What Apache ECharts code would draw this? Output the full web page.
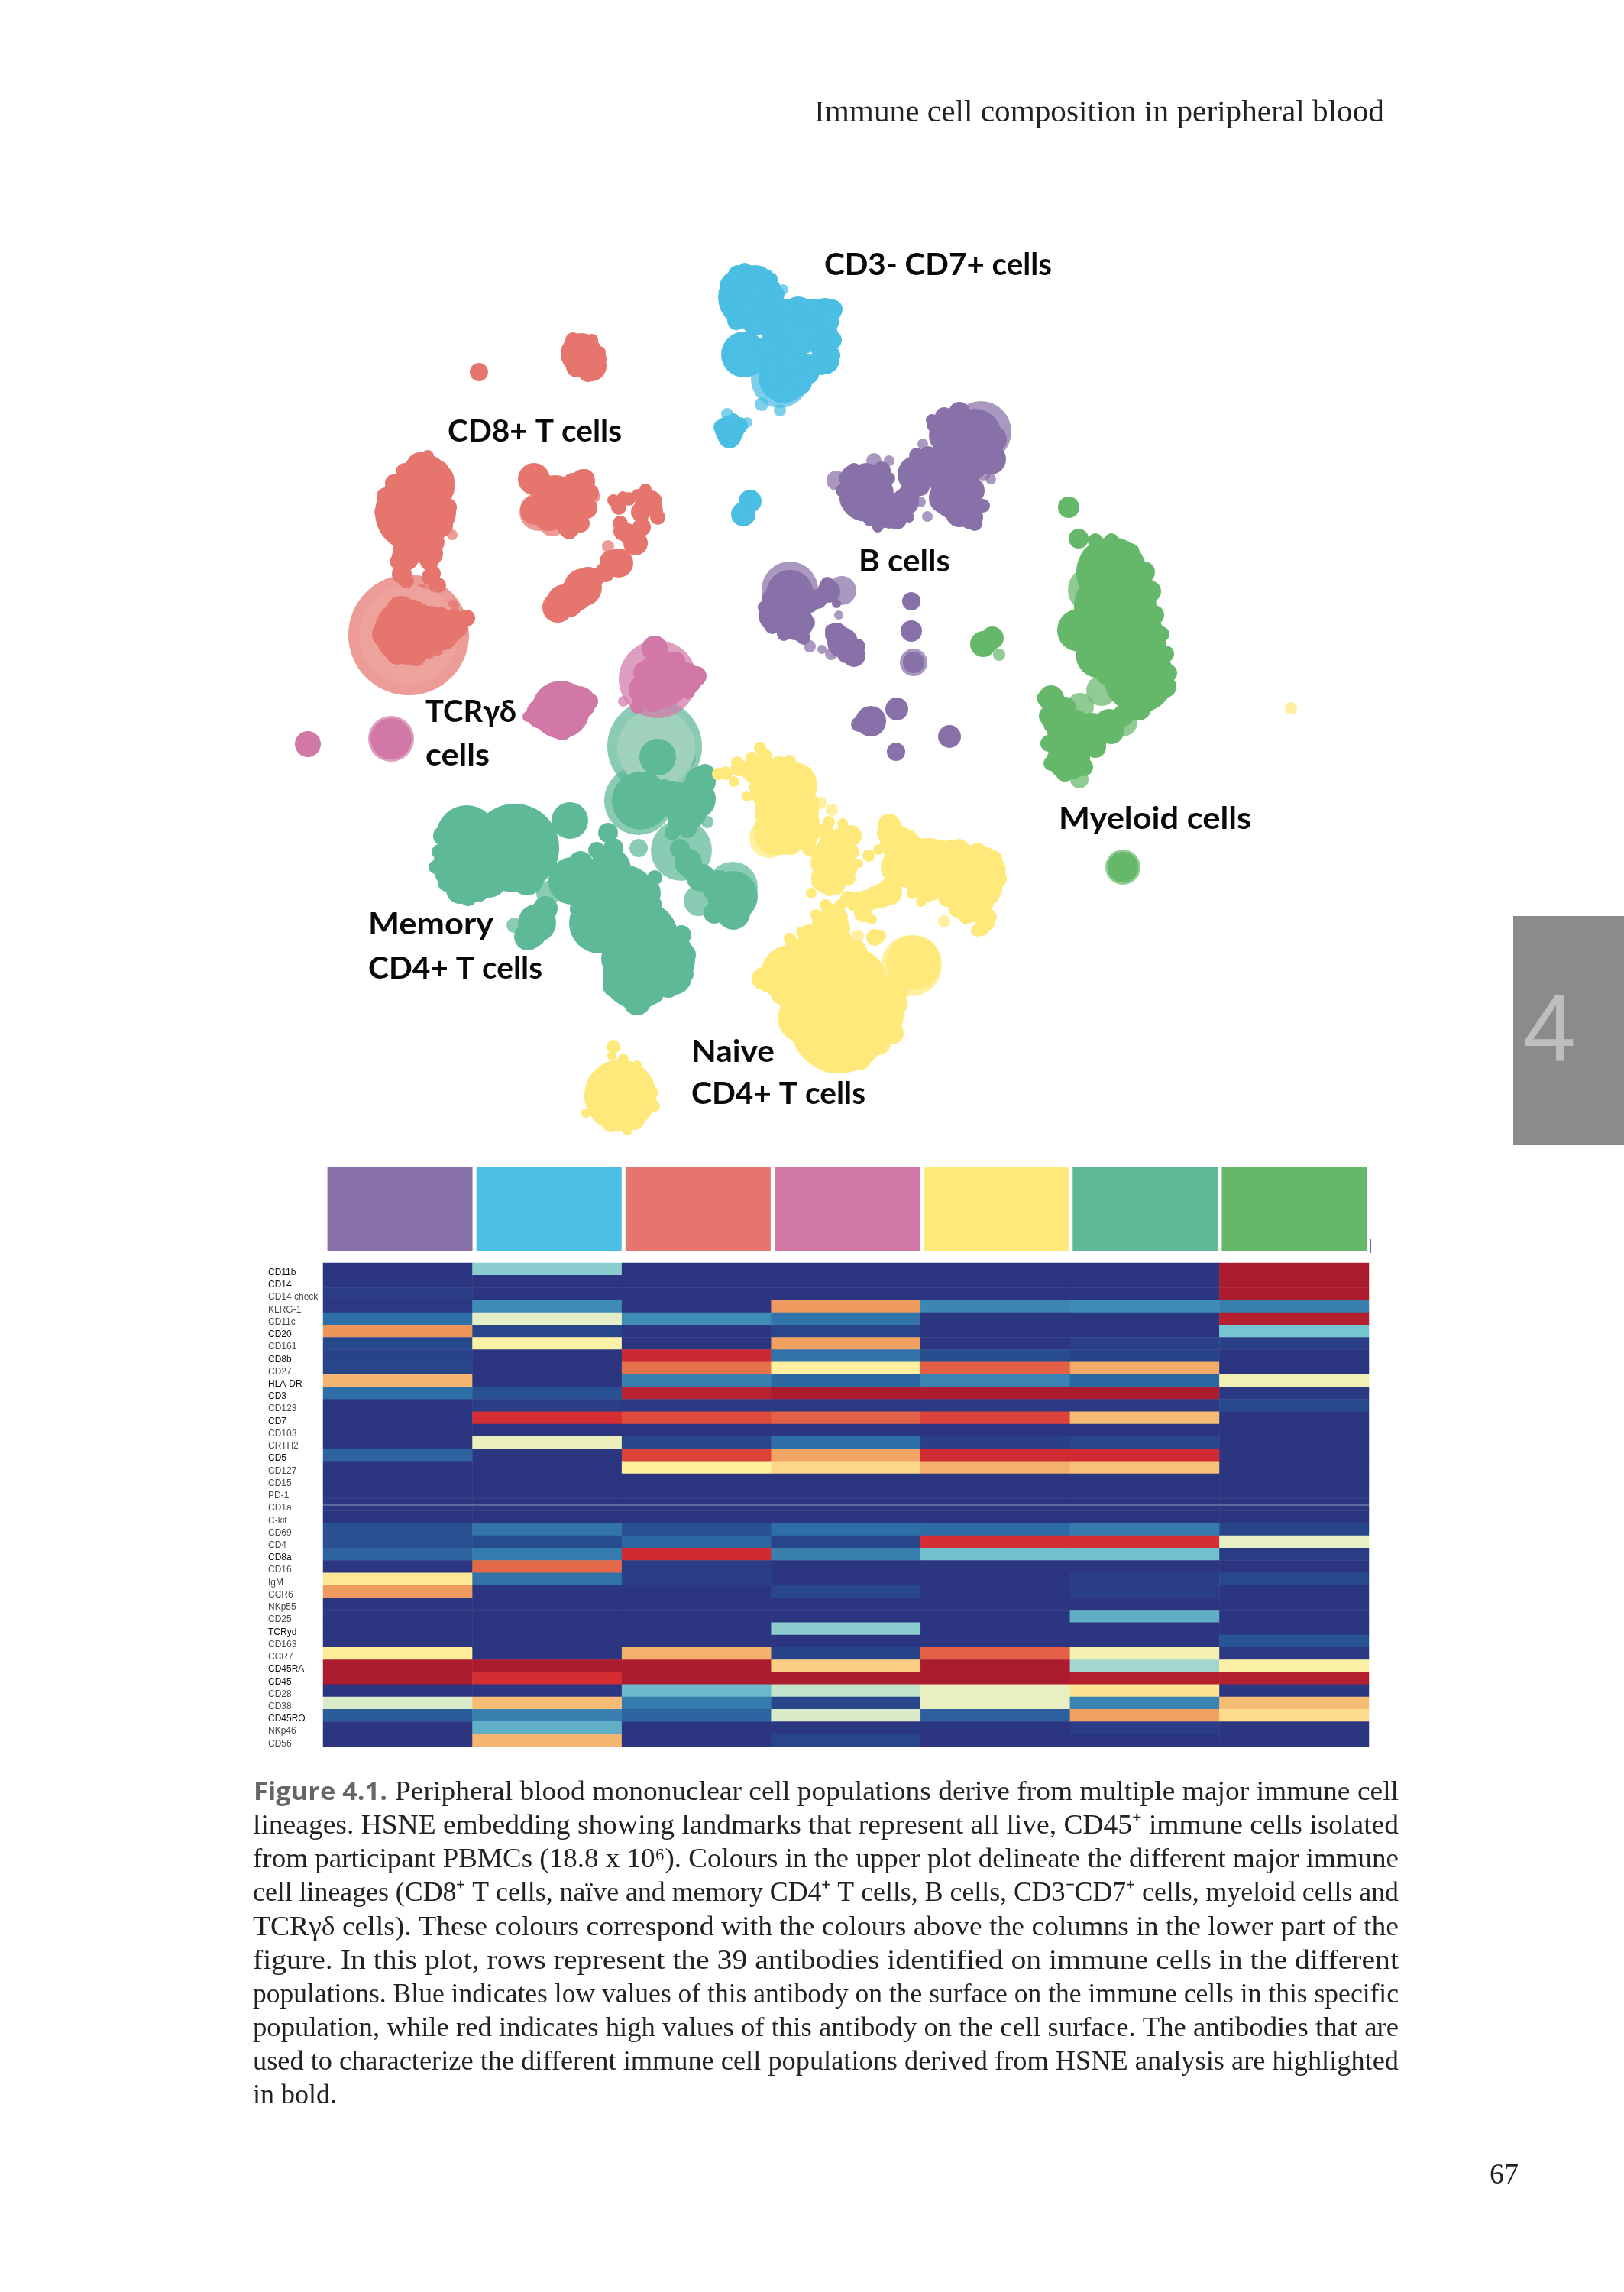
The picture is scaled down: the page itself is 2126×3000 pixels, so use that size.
<!DOCTYPE html>
<html><head><meta charset="utf-8"><title>Figure 4.1</title>
<style>html,body{margin:0;padding:0;background:#fff}#c{width:2126px;height:3000px}</style>
<script src="https://cdn.jsdelivr.net/npm/echarts@6/dist/echarts.min.js"></script></head>
<body><div id="c"></div>
<script>
// ---------- heatmap data ----------
const populations = ['B cells','CD3- CD7+ cells','CD8+ T cells','TCRγδ cells','Naive CD4+ T cells','Memory CD4+ T cells','Myeloid cells'];
const populationColors = ['#8870A8','#4ABEE3','#E5756D','#D178A7','#FFE97A','#5DB996','#65B76A'];
const markers = ['CD11b','CD14','CD14 check','KLRG-1','CD11c','CD20','CD161','CD8b','CD27','HLA-DR','CD3','CD123','CD7','CD103','CRTH2','CD5','CD127','CD15','PD-1','CD1a','C-kit','CD69','CD4','CD8a','CD16','IgM','CCR6','NKp55','CD25','TCRyd','CD163','CCR7','CD45RA','CD45','CD28','CD38','CD45RO','NKp46','CD56'];
const boldMarkers = ['CD11b','CD14','CD20','CD8b','HLA-DR','CD3','CD7','CD5','CD8a','TCRyd','CD45RA','CD45','CD45RO'];
const bCells =    [0,0,.03,.02,.2,.79,.1,.07,.08,.73,.2,0,0,0,0,.17,0,0,0,0,0,.12,.12,.17,0,.62,.78,0,0,0,0,.61,1,1,0,.49,.15,0,0];
const cd3Cd7 =    [.42,0,0,.3,.5,.08,.58,0,0,0,.12,.04,.91,0,.53,0,0,0,0,0,0,.22,.11,.24,.84,.21,0,0,0,0,0,0,1,.91,0,.72,.26,.36,.73];
const cd8T =      [0,0,0,0,.3,0,0,.93,.83,.26,.97,.02,.87,0,.09,.88,.6,0,0,0,0,.12,.18,.92,.05,.05,0,0,0,0,0,.74,1,1,.38,.24,.17,0,0];
const tcrGd =     [0,0,0,.78,.22,.08,.77,.21,.6,.18,1,.02,.85,0,.2,.76,.66,0,0,0,0,.2,.08,.26,0,0,.09,0,0,.42,0,.07,.68,1,.47,.09,.49,.01,.08];
const naiveCd4 =  [0,0,0,.28,0,0,0,.11,.85,.27,1,.02,.88,0,.05,.92,.74,0,0,0,0,.19,.91,.39,0,0,0,0,0,0,0,.85,1,1,.52,.52,.16,0,0];
const memoryCd4 = [0,0,0,.3,0,0,.05,.07,.75,.18,1,.02,.72,0,.09,.92,.71,0,0,0,0,.24,.91,.39,0,.05,.05,0,.36,0,0,.56,.44,.98,.63,.27,.77,.04,0];
const myeloid =   [1,1,1,.26,.98,.4,.05,0,0,.55,.02,.1,0,0,0,0,0,0,0,0,0,.08,.51,.04,0,.1,0,0,0,0,.13,.02,.58,.98,.01,.72,.65,0,0];
const heatColumns = [bCells,cd3Cd7,cd8T,tcrGd,naiveCd4,memoryCd4,myeloid];
const heatStops = ['#2c3580','#27498c','#2f6fa8','#3f8cb6','#76c6d2','#e4efc8','#fff09e','#f9c77c','#ec8f56','#d92f33','#ab1c2e'];

// ---------- embedding landmarks: [x, y, radius] ----------
const tealFaint = [[857,977,62],[836,1048,45],[900,993,11],[926,1076,8],[836,1110,12],[673,1211,10],[718,1169,16],[892,1113,40],[959,1161,33],[915,1179,20]];
const tealPale = [[859,979,51]];
const tealDense = [[861,991,24],[839,1048,38],[910,1046,27],[917,1023,20],[923,1013,13],[906,1066,18],[746,1074,24],[611,1094,40],[607,1133,40],[674,1110,58],[613,1175,11],[580,1094,13],[580,1141,11],[602,1165,18],[749,1153,31],[799,1137,27],[796,1090,13],[803,1110,13],[781,1113,11],[816,1177,45],[843,1169,22],[857,1149,10],[785,1208,40],[839,1228,49],[834,1276,45],[870,1256,40],[892,1224,13],[834,1311,18],[883,1280,22],[703,1208,25],[691,1226,18],[714,1189,16],[890,1111,13],[901,1129,18],[919,1149,18],[959,1173,33],[941,1161,22],
 [640,1120,45],[575,1115,10],[570,1135,9],[640,1090,25],[640,1150,25],[625,1165,16],[600,1170,12],[585,1155,12],[690,1150,22],[640,1075,8],[810,1140,14],[830,1150,14],[850,1160,12],[855,1185,12],[855,1205,10],[880,1230,16],[895,1250,16],[895,1275,13],[875,1290,16],[855,1300,14],[805,1290,16],[800,1255,12],[760,1190,14],[770,1225,16],[812,1255,25],[860,1220,10],[735,1160,16],[760,1130,16],[790,1150,28],[880,1046,24],[890,1075,16],[880,1090,10],[905,1040,20],[925,1055,9],[900,1085,12],[870,1030,10],[905,1140,12],[915,1150,16],[935,1165,14],[935,1195,14],[960,1195,22],[700,1225,14],[715,1200,12]];
const yellowFaint = [[1007,1097,26],[1193,1264,40],[1690,927,8],[1074,1051,8],[1089,1060,8],[1236,1206,8],[1123,1225,8]];
const yellowDense = [[995,979,8],[965,998,8],[940,1013,8],[961,1023,7],[978,1042,7],[984,992,8],[1001,990,10],[1034,996,8],[1018,1030,36],[1030,1061,42],[1041,1027,29],[1015,1092,27],[1049,1088,24],[1060,1111,10],[1085,1076,8],[1103,1078,7],[1095,1115,27],[1114,1094,14],[1083,1149,21],[1104,1134,19],[1062,1169,7],[1080,1088,11],[1137,1120,8],[1150,1112,7],[1124,1130,6],[1164,1080,15],[1175,1103,23],[1183,1134,27],[1217,1126,29],[1248,1137,38],[1282,1141,34],[1271,1176,31],[1290,1206,13],[1279,1218,8],[1256,1187,15],[1307,1137,10],[1206,1180,7],[1194,1170,7],[1164,1168,17],[1133,1180,15],[1110,1176,10],[1081,1185,8],[1068,1197,7],[1141,1203,7],[1085,1237,32],[1080,1283,57],[1034,1275,38],[999,1281,15],[1118,1283,42],[1049,1333,31],[1099,1340,65],[1145,1329,38],[1171,1314,17],[1168,1352,15],[1099,1382,23],[1034,1229,8],[1049,1220,7],[1196,1260,36],[1145,1227,11],[1152,1225,8],[812,1434,47],[803,1370,9],[816,1386,7],[801,1382,6],[857,1448,7],[821,1479,7],[767,1457,6],[834,1394,6],
 [950,1012,9],[968,1005,11],[985,1010,14],[1000,1005,14],[1020,1005,15],[1045,1010,10],[1058,1030,11],[1060,1050,12],[1060,1075,13],[1000,1040,16],[1005,1065,16],[995,1030,14],[1005,1085,18],[1035,1105,14],[1025,1095,24],[1100,1100,16],[1075,1130,14],[1070,1155,8],[1085,1165,8],[1115,1115,10],[1110,1150,10],[1095,1160,11],[1065,1115,8],[1162,1090,14],[1185,1105,20],[1205,1110,13],[1230,1112,13],[1256,1110,12],[1280,1115,12],[1300,1125,12],[1305,1150,13],[1295,1170,14],[1295,1200,10],[1285,1215,10],[1265,1200,10],[1240,1175,12],[1215,1160,20],[1195,1155,12],[1175,1135,22],[1170,1120,10],[1255,1155,30],[1300,1165,12],[1165,1160,12],[1155,1172,16],[1145,1175,15],[1120,1180,13],[1100,1185,8],[1090,1192,9],[1130,1195,12],[1075,1205,12],[1090,1198,13],[1100,1200,10],[1095,1215,18],[1060,1225,15],[1040,1240,12],[1030,1255,14],[1015,1270,14],[1005,1285,14],[1025,1300,16],[1035,1320,14],[1050,1345,14],[1070,1370,14],[1085,1390,14],[1105,1390,13],[1125,1385,16],[1150,1365,16],[1165,1345,15],[1172,1325,12],[1180,1300,9],[1170,1290,15],[1135,1265,10],[1120,1245,15],[785,1425,10],[790,1450,12],[840,1425,12],[850,1440,10],[830,1465,14],[800,1470,12],[810,1395,9],[775,1435,8],[855,1430,7]];
const pinkFaint = [[861,889,51],[512,967,30],[816,918,7]];
const pinkDense = [[734,929,38],[709,934,20],[758,920,22],[736,907,16],[736,956,13],[772,918,11],[691,938,7],[868,889,36],[857,849,17],[912,885,13],[843,903,20],[897,889,22],[834,925,9],[512,967,27],[403,974,17],[843,880,14],[885,865,12],[870,915,12],[855,920,12],[900,905,10],[720,915,14],[745,945,16],[715,945,10],[755,935,12],[750,905,10],[725,950,10]];
const redFaint = [[591,633,5],[592,700,7],[553,771,7],[593,793,8],[778,650,8],[705,670,25],[723,684,18],[796,715,8],[535,831,79]];
const redPale = [[535,831,65]];
const redDense = [[542,671,51],[557,626,31],[551,604,12],[524,639,20],[566,671,31],[575,639,20],[586,664,12],[582,688,11],[548,702,31],[531,729,18],[562,724,18],[526,751,13],[532,760,10],[566,751,11],[574,766,10],[522,729,9],[560,597,8],[513,637,8],[533,827,43],[562,822,29],[593,818,20],[611,809,11],[573,851,7],[580,831,20],[699,627,21],[727,653,31],[763,630,16],[766,626,12],[749,657,25],[700,668,19],[745,688,16],[745,695,11],[718,675,20],[803,655,8],[810,664,10],[823,653,9],[845,641,8],[852,657,15],[839,670,13],[861,677,10],[816,695,13],[832,711,16],[810,737,19],[792,749,13],[763,769,25],[738,787,22],[754,778,22],[774,765,13],[761,463,27],[774,479,20],[785,461,8],[627,487,12],
 [570,630,25],[550,610,18],[575,615,12],[582,625,11],[580,648,12],[586,668,11],[580,690,12],[570,710,12],[562,735,12],[563,755,11],[570,765,10],[528,715,14],[520,735,10],[525,750,11],[508,690,10],[500,670,10],[505,650,12],[515,632,11],[530,618,12],[540,610,10],[550,700,30],[575,810,16],[560,850,12],[600,815,12],[585,830,14],[525,800,20],[505,830,18],[520,855,15],[545,860,12],[735,640,14],[750,633,14],[772,645,12],[768,665,14],[760,685,12],[735,680,14],[725,645,20],[815,650,7],[835,648,8],[858,668,10],[845,660,14],[812,685,10],[825,700,14],[840,690,12],[800,735,15],[780,755,12],[730,795,20],[745,790,18],[770,760,18],[780,470,14],[770,487,13],[755,480,14],[775,445,8],[750,445,10]];
const blueFaint = [[1025,379,7],[997,529,9],[1021,537,8],[1021,496,38],[952,542,8],[978,553,7]];
const blueDense = [[982,389,42],[964,376,22],[999,374,20],[966,360,13],[995,360,12],[955,392,12],[1008,403,20],[974,464,30],[1060,422,31],[1080,410,20],[1090,405,13],[1034,443,28],[1077,438,20],[1080,471,19],[1026,494,33],[1011,453,18],[1055,478,15],[1021,514,13],[955,563,19],[955,572,15],[968,557,11],[944,559,10],[982,656,15],[973,673,16],
 [1045,410,22],[1065,405,14],[1085,420,14],[1090,445,12],[1088,465,12],[1075,480,11],[1060,490,12],[1045,500,18],[1025,510,18],[1010,495,14],[1035,470,22],[1015,430,20],[1040,430,20],[1000,420,15],[990,425,14],[1030,405,14],[1052,445,18],[1070,455,10],[1011,480,14],[955,375,10],[950,400,8],[964,420,12],[985,425,12],[1010,365,8],[1015,385,12],[975,352,8],[990,355,8],[1005,360,7],[1012,375,9],[945,565,8],[960,550,9]];
const purpleFaint = [[1284,565,40],[1095,629,13],[1144,603,10],[1164,603,7],[1208,581,7],[1297,627,7],[1214,676,7],[1205,657,7],[1287,619,10],[1034,772,37],[1102,773,19],[1060,846,8],[1088,856,8],[1098,805,6],[1076,850,6],[1196,867,18]];
const purpleDense = [[1276,570,35],[1241,570,25],[1256,601,36],[1297,601,20],[1220,550,8],[1251,647,33],[1271,677,16],[1281,662,10],[1200,621,25],[1185,657,18],[1174,680,13],[1134,647,36],[1118,626,18],[1151,682,11],[1154,662,23],[1034,777,31],[1016,805,23],[1042,815,23],[1085,774,15],[1070,784,13],[1001,795,9],[1103,841,20],[1095,830,15],[1118,858,15],[1052,835,9],[1193,787,12],[1193,826,14],[1196,867,14],[1140,944,20],[1124,948,10],[1174,928,15],[1243,964,15],[1173,984,12],
 [1225,555,12],[1236,545,12],[1256,540,14],[1300,575,18],[1307,606,7],[1281,616,9],[1266,586,30],[1251,616,22],[1215,596,12],[1200,596,10],[1190,616,12],[1225,626,14],[1236,652,20],[1256,672,18],[1276,685,10],[1287,662,9],[1271,642,18],[1190,647,14],[1179,667,14],[1164,682,10],[1190,677,7],[1205,637,12],[1108,626,10],[1118,616,10],[1154,616,12],[1164,626,8],[1103,642,9],[1113,652,9],[1126,670,9],[1139,680,9],[1149,690,7],[1134,626,20],[1006,805,13],[1011,820,10],[1026,830,9],[1047,830,10],[1057,815,10],[1060,790,12],[1011,785,14],[1088,825,8],[1123,846,10],[1108,856,12],[1083,764,9],[1095,790,6]];
const greenFaint = [[1429,772,31],[1442,904,20],[1470,945,19],[1414,925,18],[1413,1020,12],[1308,857,8],[1470,1135,23]];
const greenDense = [[1399,664,14],[1412,705,13],[1455,749,46],[1460,795,54],[1480,841,47],[1412,825,28],[1491,887,46],[1511,866,15],[1491,774,23],[1526,899,14],[1480,900,26],[1434,733,20],[1376,914,17],[1399,958,28],[1429,958,25],[1399,993,28],[1452,948,20],[1373,937,13],[1287,843,17],[1299,835,15],[1470,1135,20],
 [1480,723,12],[1498,749,14],[1506,774,14],[1511,805,13],[1521,830,10],[1526,856,11],[1529,881,12],[1434,708,10],[1455,708,10],[1465,718,12],[1511,912,14],[1491,927,16],[1470,937,14],[1455,958,16],[1434,978,14],[1419,1004,12],[1394,1011,12],[1376,999,10],[1373,973,11],[1378,948,12],[1366,914,9],[1440,856,32],[1424,861,14],[1460,871,30],[1394,927,15],[1409,945,16]];
const clusters = [
  ['Memory CD4+ T cells','#5DB996',tealFaint,'#A0D1BB',tealPale,tealDense],
  ['Naive CD4+ T cells','#FFE97A',yellowFaint,null,[],yellowDense],
  ['TCRγδ cells','#D178A7',pinkFaint,null,[],pinkDense],
  ['CD8+ T cells','#E5756D',redFaint,'#EDA29C',redPale,redDense],
  ['CD3- CD7+ cells','#4ABEE3',blueFaint,null,[],blueDense],
  ['B cells','#8870A8',purpleFaint,null,[],purpleDense],
  ['Myeloid cells','#65B76A',greenFaint,null,[],greenDense]
];

// ---------- page text ----------
const pageHeader = 'Immune cell composition in peripheral blood';
const chapterNumber = '4';
const pageNumber = '67';
const captionLead = 'Figure 4.1.';
const captionLines = [
 'Peripheral blood mononuclear cell populations derive from multiple major immune cell',
 'lineages. HSNE embedding showing landmarks that represent all live, CD45⁺ immune cells isolated',
 'from participant PBMCs (18.8 x 10⁶). Colours in the upper plot delineate the different major immune',
 'cell lineages (CD8⁺ T cells, naïve and memory CD4⁺ T cells, B cells, CD3⁻CD7⁺ cells, myeloid cells and',
 'TCRγδ cells). These colours correspond with the colours above the columns in the lower part of the',
 'figure. In this plot, rows represent the 39 antibodies identified on immune cells in the different',
 'populations. Blue indicates low values of this antibody on the surface on the immune cells in this specific',
 'population, while red indicates high values of this antibody on the cell surface. The antibodies that are',
 'used to characterize the different immune cell populations derived from HSNE analysis are highlighted',
 'in bold.'];
const clusterLabels = [
 ['CD3- CD7+ cells',1079,347,298],['CD8+ T cells',586,565,228],['B cells',1124,735,120],['TCRγδ',557,932,119],['cells',557,989,84],
 ['Myeloid cells',1386,1072,252],['Memory',482,1210,164],['CD4+ T cells',482,1268,228],['Naive',905,1377,109],['CD4+ T cells',905,1432,228]];

// ---------- build ----------
const chart = echarts.init(document.getElementById('c'), null, {renderer:'canvas', width:2126, height:3000});
const measure = document.createElement('canvas').getContext('2d');
const W = 2126, H = 3000;
const size = v => v[2]*2;
const scatterSeries = [];
clusters.forEach(([name,color,faint,paleColor,pale,dense]) => {
  scatterSeries.push({name:name+' faint',type:'scatter',xAxisIndex:0,yAxisIndex:0,data:faint,symbolSize:size,itemStyle:{color,opacity:.72},z:2});
  if (pale.length) scatterSeries.push({name:name+' pale',type:'scatter',xAxisIndex:0,yAxisIndex:0,data:pale,symbolSize:size,itemStyle:{color:paleColor,opacity:1},z:2});
  scatterSeries.push({name,type:'scatter',xAxisIndex:0,yAxisIndex:0,data:dense,symbolSize:size,itemStyle:{color,opacity:1},z:2});
});
const heatData = [];
heatColumns.forEach((col,x)=>col.forEach((v,y)=>heatData.push([x,y,v])));

const graphic = [];
const txt = (text,x,y,font,fill,extra) => graphic.push(Object.assign({type:'text',x,y,z:20,silent:true,style:Object.assign({text,font,fill,textVerticalAlign:'middle'},extra&&extra.style||{})},extra&&extra.el||{}));
const fitted = (text,x,y,font,fill,width) => { measure.font=font; txt(text,x,y,font,fill,{el:{scaleX:width/measure.measureText(text).width,originX:0,originY:0}}); };
graphic.push({type:'rect',z:1,silent:true,shape:{x:1981,y:1199,width:145,height:300},style:{fill:'#8B8B8B'}});
graphic.push({type:'rect',z:1,silent:true,shape:{x:1793,y:1622,width:2,height:18},style:{fill:'#5a6a9e'}});
graphic.push({type:'rect',z:19,silent:true,shape:{x:423,y:1968,width:1369,height:3},style:{fill:'#5b6a9c'}});
txt(chapterNumber,1994,1354,'124px "Liberation Sans"','#BEBEBE');
fitted(pageHeader,1066,148,'40px "Liberation Serif"','#222',746);
txt(pageNumber,1988,2848,'38px "Liberation Serif"','#222',{style:{textAlign:'right'}});
clusterLabels.forEach(([t,x,y,w])=>fitted(t,x,y,'bold 41px Lato, "Open Sans"','#0a0a0a',w));
fitted(captionLead,332,2347,'bold 33px "Open Sans"','#666',175);
const captionFont='36px "Liberation Serif"';
const capY=[2347,2391,2435,2479,2524,2568,2612,2656,2700,2744];
captionLines.forEach((line,i)=>{
  const x0=i===0?517:331;
  if(i===captionLines.length-1) txt(line,x0,capY[i],captionFont,'#222');
  else fitted(line,x0,capY[i],captionFont,'#222',1831-x0);
});

chart.setOption({
  animation:false,
  backgroundColor:'#fff',
  graphic,
  visualMap:{show:false,type:'continuous',min:0,max:1,seriesIndex:scatterSeries.length+1,inRange:{color:heatStops}},
  grid:[
    {left:0,top:0,width:W,height:H},
    {left:426,top:1527,width:1366,height:110},
    {left:423,top:1653,width:1369,height:633}
  ],
  xAxis:[
    {gridIndex:0,type:'value',min:0,max:W,show:false},
    {gridIndex:1,type:'category',data:populations,show:false},
    {gridIndex:2,type:'category',data:populations,show:false}
  ],
  yAxis:[
    {gridIndex:0,type:'value',min:0,max:H,inverse:true,show:false},
    {gridIndex:1,type:'value',min:0,max:1,show:false},
    {gridIndex:2,type:'category',inverse:true,data:markers,axisLine:{show:false},axisTick:{show:false},splitLine:{show:false},
     axisLabel:{show:true,interval:0,align:'left',margin:72,padding:[9,0,0,0],
       formatter:v=>boldMarkers.includes(v)?`{b|${v}}`:`{n|${v}}`,
       rich:{b:{font:'bold 13px "Open Sans"',color:'#111'},n:{font:'13px "Open Sans"',color:'#4a4a4a'}}}}
  ],
  series:[
    ...scatterSeries,
    {name:'Population colours',type:'bar',xAxisIndex:1,yAxisIndex:1,barWidth:190,data:populationColors.map(c=>({value:1,itemStyle:{color:c}}))},
    {name:'Marker expression',type:'heatmap',xAxisIndex:2,yAxisIndex:2,data:heatData,itemStyle:{borderWidth:0},emphasis:{disabled:true}}
  ]
});
</script></body></html>
